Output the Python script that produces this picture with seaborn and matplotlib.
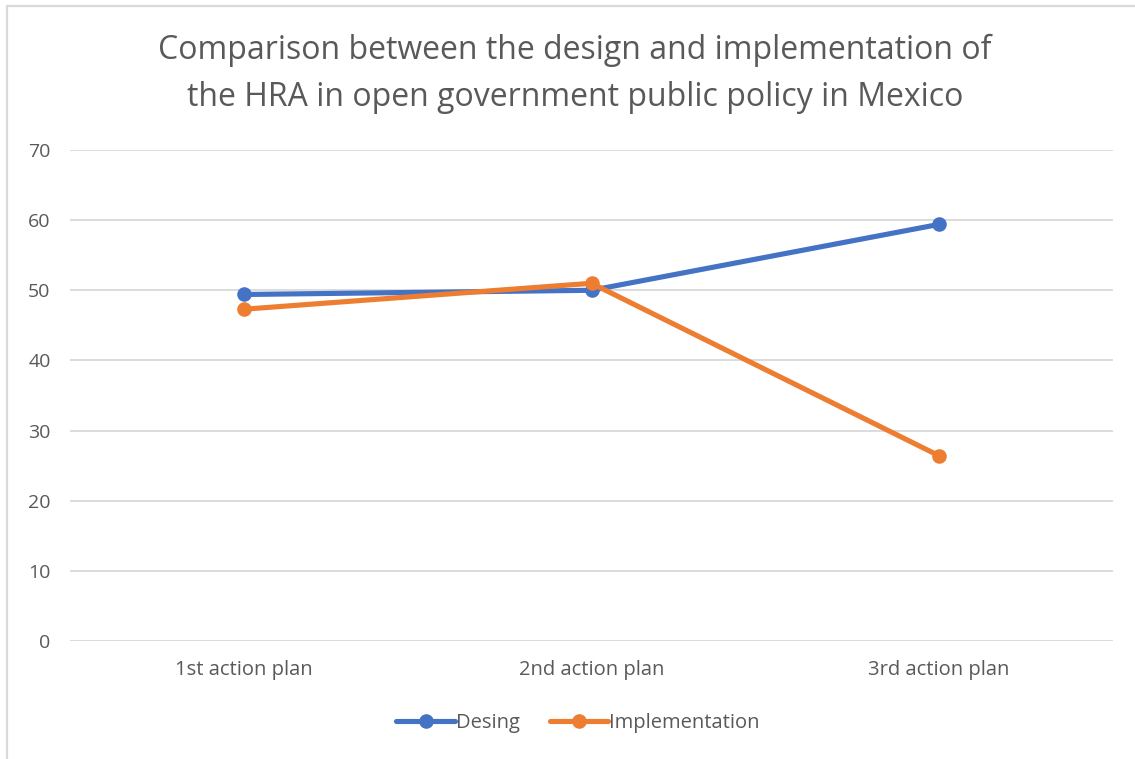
import matplotlib
matplotlib.use("Agg")
import matplotlib.pyplot as plt
import seaborn as sns
import pandas as pd
from matplotlib.lines import Line2D

categories = ["1st action plan", "2nd action plan", "3rd action plan"]
desing = [49.4, 50.0, 59.4]
implementation = [47.3, 51.0, 26.4]
series_names = ["Desing", "Implementation"]
y_ticks = [0, 10, 20, 30, 40, 50, 60, 70]

df = pd.DataFrame({
    "plan": categories * 2,
    "value": desing + implementation,
    "series": [series_names[0]] * 3 + [series_names[1]] * 3,
})

sns.set_theme(style="white")
plt.rcParams['font.family'] = ['Open Sans', 'DejaVu Sans']

W, H = 1135, 759
fig = plt.figure(figsize=(W / 100, H / 100), dpi=100)
ax = fig.add_axes([70 / W, (H - 641) / H, (1113 - 70) / W, (641 - 150) / H])

colors = {"Desing": "#4472C4", "Implementation": "#ED7D31"}
sns.lineplot(data=df, x="plan", y="value", hue="series", palette=colors,
             marker="o", markersize=10.5, markeredgewidth=0, linewidth=3.7,
             sort=False, ax=ax, legend=False)

ax.set_xlim(-0.5, 2.5)
ax.set_ylim(0, 70)
ax.set_yticks(y_ticks)
ax.yaxis.grid(True, color="#D9D9D9", linewidth=1.3)
ax.set_axisbelow(True)
for s in ax.spines.values():
    s.set_visible(False)
ax.set_xlabel("")
ax.set_ylabel("")
ax.tick_params(axis="both", length=0, labelcolor="#595959")
ax.tick_params(axis="y", pad=14, labelsize=14)
ax.tick_params(axis="x", pad=14, labelsize=14.5)

fig.text(575 / W, 1 - 50 / H, "Comparison between the design and implementation of",
         ha="center", va="center", fontsize=23, color="#595959")
fig.text(575 / W, 1 - 97 / H, "the HRA in open government public policy in Mexico",
         ha="center", va="center", fontsize=23, color="#595959")

handles = [Line2D([0], [0], color=colors[n], lw=3.7, marker="o", markersize=10.5,
                  markeredgewidth=0) for n in series_names]
fig.legend(handles, series_names, loc="center", bbox_to_anchor=(578 / W, 1 - 723 / H),
           ncol=2, frameon=False, fontsize=14.5, labelcolor="#595959",
           handlelength=2.9, handletextpad=0.05, columnspacing=1.5)

# chart frame (top and left edges visible)
fig.add_artist(Line2D([7 / W, 7 / W], [0, 1 - 6 / H], transform=fig.transFigure,
                      color="#D9D9D9", lw=1.6))
fig.add_artist(Line2D([7 / W, 1], [1 - 6 / H, 1 - 6 / H], transform=fig.transFigure,
                      color="#D9D9D9", lw=1.6))

fig.savefig("out.png", dpi=100)
